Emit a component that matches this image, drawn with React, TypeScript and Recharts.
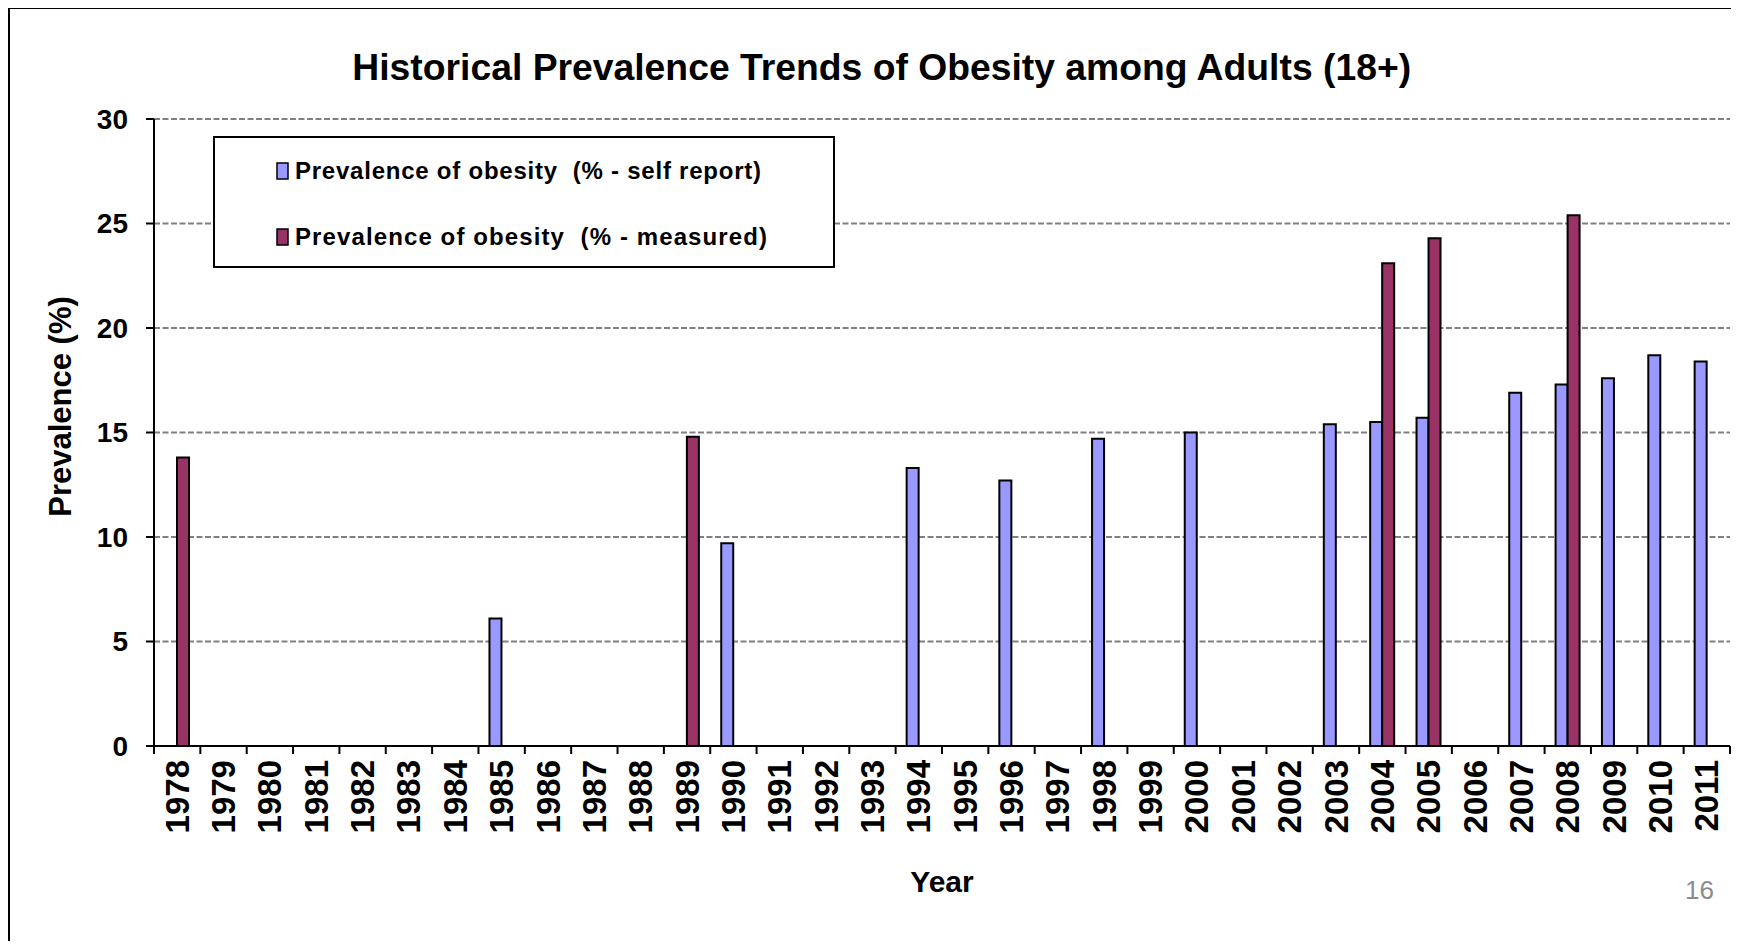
import React from 'react';
import { BarChart, Bar, XAxis, YAxis, CartesianGrid, Legend } from 'recharts';

const years = [
  '1978', '1979', '1980', '1981', '1982', '1983', '1984', '1985', '1986', '1987',
  '1988', '1989', '1990', '1991', '1992', '1993', '1994', '1995', '1996', '1997',
  '1998', '1999', '2000', '2001', '2002', '2003', '2004', '2005', '2006', '2007',
  '2008', '2009', '2010', '2011',
];

const selfReport: (number | null)[] = [
  null, null, null, null, null, null, null, 6.1, null, null,
  null, null, 9.7, null, null, null, 13.3, null, 12.7, null,
  14.7, null, 15.0, null, null, 15.4, 15.5, 15.7, null, 16.9,
  17.3, 17.6, 18.7, 18.4,
];

const measured: (number | null)[] = [
  13.8, null, null, null, null, null, null, null, null, null,
  null, 14.8, null, null, null, null, null, null, null, null,
  null, null, null, null, null, null, 23.1, 24.3, null, null,
  25.4, null, null, null,
];

const yTicks = [0, 5, 10, 15, 20, 25, 30];

const titleText = 'Historical Prevalence Trends of Obesity among Adults (18+)';
const selfName = 'Prevalence of obesity  (% - self report)';
const measuredName = 'Prevalence of obesity  (% - measured)';
const yLabelText = 'Prevalence (%)';
const xLabelText = 'Year';
const pageNumber = '16';

const SELF_COLOR = '#9999FF';
const MEAS_COLOR = '#993366';
const FONT = "'Liberation Sans', Arial, Helvetica, sans-serif";

const data = years.map((y, i) => ({ year: y, self: selfReport[i], measured: measured[i] }));

const legendItems = [
  { name: selfName, color: SELF_COLOR, len: 466 },
  { name: measuredName, color: MEAS_COLOR, len: 472 },
];

const CHART_W = 1723;
const CHART_H = 933;
const PLOT_LEFT = 146;
const PLOT_RIGHT = 1722;
const FALLBACK_HALF = (PLOT_RIGHT - PLOT_LEFT) / years.length / 2;
const X_TICK_SIZE = 8;
const X_TICK_MARGIN = 6;

const XTick = (props: any) => {
  const { x, y, payload, index } = props;
  const half = (payload && payload.offset) || FALLBACK_HALF;
  const axisY = y - X_TICK_SIZE - X_TICK_MARGIN;
  return (
    <g>
      <line x1={x - half} x2={x - half} y1={axisY} y2={axisY + X_TICK_SIZE} stroke="#000" strokeWidth={2} />
      {index === years.length - 1 && (
        <line x1={x + half} x2={x + half} y1={axisY} y2={axisY + X_TICK_SIZE} stroke="#000" strokeWidth={2} />
      )}
      <text
        x={x}
        y={y}
        transform={`rotate(-90 ${x} ${y})`}
        textAnchor="end"
        dominantBaseline="central"
        fontSize={33}
        fontWeight="bold"
        fill="#000"
        fontFamily={FONT}
      >
        {payload.value}
      </text>
    </g>
  );
};

const YLabel = (props: any) => {
  const vb = props.viewBox || { x: 0, y: 111, width: 146, height: 627 };
  const cx = vb.x + 52;
  const cy = vb.y + vb.height / 2 - 26;
  return (
    <text
      x={cx}
      y={cy}
      transform={`rotate(-90 ${cx} ${cy})`}
      textAnchor="middle"
      dominantBaseline="central"
      fontSize={31}
      fontWeight="bold"
      fill="#000"
      fontFamily={FONT}
    >
      {yLabelText}
    </text>
  );
};

const XLabel = (props: any) => {
  const vb = props.viewBox || { x: 146, y: 738, width: 1576, height: 195 };
  const cx = vb.x + vb.width / 2;
  const cy = vb.y + 146;
  return (
    <text x={cx} y={cy} textAnchor="middle" fontSize={30} fontWeight="bold" fill="#000" fontFamily={FONT}>
      {xLabelText}
    </text>
  );
};

const LegendBox = () => (
  <svg width={622} height={132} style={{ display: 'block' }}>
    <rect x={1} y={1} width={620} height={130} fill="#fff" stroke="#000" strokeWidth={2} />
    {legendItems.map((it, i) => (
      <g key={i}>
        <rect x={64} y={27 + i * 66} width={11} height={16} fill={it.color} stroke="#000" strokeWidth={1.5} />
        <text
          x={82}
          y={43 + i * 66}
          fontSize={24}
          fontWeight="bold"
          textLength={it.len}
          lengthAdjust="spacing"
          fill="#000"
          fontFamily={FONT}
          style={{ whiteSpace: 'pre' }}
        >
          {it.name}
        </text>
      </g>
    ))}
  </svg>
);

export default function App() {
  return (
    <div style={{ position: 'relative', width: CHART_W, height: CHART_H, fontFamily: FONT }}>
      <div
        style={{
          position: 'absolute',
          left: 0,
          top: -1,
          width: 1728,
          height: 934,
          borderTop: '2px solid #000',
          borderLeft: '2px solid #000',
          borderRight: '2px solid #000',
          boxSizing: 'border-box',
        }}
      />
      <BarChart
        width={CHART_W}
        height={CHART_H}
        data={data}
        margin={{ top: 111, right: CHART_W - PLOT_RIGHT, left: 0, bottom: 0 }}
        barGap={0}
        barSize={12}
      >
        <CartesianGrid vertical={false} stroke="#808080" strokeDasharray="6 2.5" strokeWidth={2} />
        <XAxis
          dataKey="year"
          type="category"
          interval={0}
          height={195}
          tickLine={false}
          tickSize={X_TICK_SIZE}
          tickMargin={X_TICK_MARGIN}
          axisLine={{ stroke: '#000', strokeWidth: 2 }}
          tick={<XTick />}
          label={<XLabel />}
        />
        <YAxis
          type="number"
          domain={[0, 30]}
          ticks={yTicks}
          interval={0}
          width={PLOT_LEFT}
          tickSize={8}
          tickMargin={18}
          axisLine={{ stroke: '#000', strokeWidth: 2 }}
          tickLine={{ stroke: '#000', strokeWidth: 2 }}
          tick={{ fontSize: 28, fontWeight: 'bold', fill: '#000', fontFamily: FONT }}
          label={<YLabel />}
        />
        <Legend
          layout="vertical"
          align="center"
          verticalAlign="middle"
          width={622}
          height={132}
          wrapperStyle={{ left: 205, top: 128, width: 622, height: 132, margin: 0 }}
          content={<LegendBox />}
        />
        <Bar
          dataKey="self"
          name={selfName}
          fill={SELF_COLOR}
          stroke="#000"
          strokeWidth={2}
          isAnimationActive={false}
        />
        <Bar
          dataKey="measured"
          name={measuredName}
          fill={MEAS_COLOR}
          stroke="#000"
          strokeWidth={2}
          isAnimationActive={false}
        />
      </BarChart>
      <svg
        width={1728}
        height={CHART_H}
        style={{ position: 'absolute', left: 0, top: 0, pointerEvents: 'none' }}
      >
        <text x={873.7} y={72} textAnchor="middle" fontSize={37.3} fontWeight="bold" fill="#000" fontFamily={FONT}>
          {titleText}
        </text>
        <text x={1706} y={891} textAnchor="end" fontSize={26} fill="#8b8b8b" fontFamily={FONT}>
          {pageNumber}
        </text>
      </svg>
    </div>
  );
}
